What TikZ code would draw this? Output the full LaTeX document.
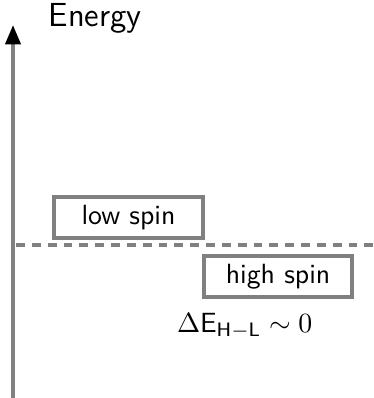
\documentclass[tikz,border=0pt]{standalone}
\usepackage{sansmath}
\usetikzlibrary{positioning,arrows.meta}
\tikzset{
  state/.style={draw=gray, line width=1.44pt, minimum width=53.6pt, minimum height=14.8pt, inner sep=0pt, font=\sffamily},
  level/.style={gray, line width=1.2pt, dash pattern=on 3.2pt off 2.5pt}
}
\begin{document}
\begin{tikzpicture}[x=0.36pt, y=0.36pt]
\useasboundingbox (0,0) rectangle (373,398);

\coordinate (O) at (13, 0);
\coordinate (T) at (13, 373);
\coordinate (L) at (16, 153);
\coordinate (R) at (373, 153);

\draw[gray, line width=1.44pt, -{Triangle[color=black, length=7pt, width=5.4pt]}] (O)--(T);
\node[font=\sffamily\large, anchor=west] (energy) at (39, 380) {Energy};

\draw[level] (L)--(R);

\node[state] (low) at (128.5, 180.5) {low spin};
\node[state] (high) at (278, 121.5) {high spin};
\node[font=\sansmath, below=1.5pt of high.south west, anchor=north, xshift=15.5pt] (gap) {$\Delta\mathsf{E}_{\mathsf{H-L}}\sim\mathsf{0}$};

\end{tikzpicture}
\end{document}
